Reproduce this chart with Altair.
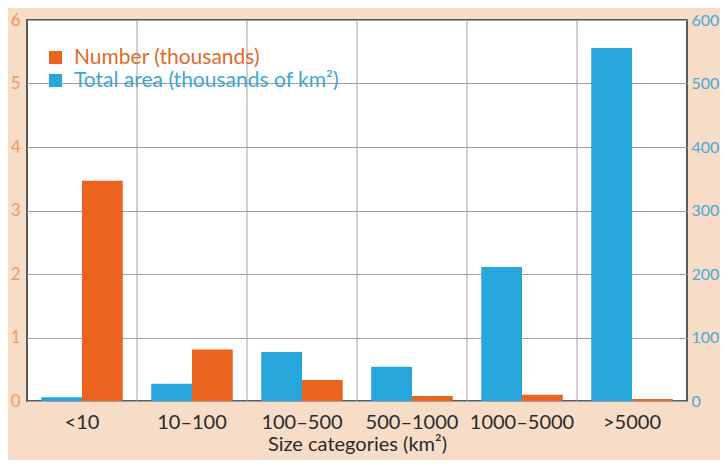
import altair as alt
import pandas as pd

categories = ["<10", "10–100", "100–500", "500–1000", "1000–5000", ">5000"]
number_thousands = [3.47, 0.81, 0.33, 0.08, 0.10, 0.03]
area_thousands_km2 = [6, 27, 77, 54, 211, 556]
number_label = "Number (thousands)"
area_label = "Total area (thousands of km²)"

ORANGE = "#EA6420"
BLUE = "#27A6DC"
FONT = "Lato"

df_num = pd.DataFrame({"cat": categories, "value": number_thousands,
                       "series": "number", "label": number_label})
df_area = pd.DataFrame({"cat": categories, "value": area_thousands_km2,
                        "series": "area", "label": area_label})
df_bounds = pd.DataFrame({"cat": categories[1:]})

x_axis = alt.Axis(labelAngle=0, labelAlign="center", labelBaseline="top", labelFontSize=20,
                  labelColor="#2a2a2a", labelFont=FONT, ticks=False, domain=False, labelPadding=11,
                  title="Size categories (km²)", titleFontSize=20, titleFont=FONT,
                  titleFontWeight="normal", titleColor="#2a2a2a", titlePadding=2, grid=False)
x_scale = alt.Scale(domain=categories, paddingInner=0, paddingOuter=0)
x_enc = alt.X("cat:N", scale=x_scale, axis=x_axis)
xoff = alt.XOffset("series:N", scale=alt.Scale(domain=["area", "number"], paddingOuter=0.35, paddingInner=0))

rules = alt.Chart(df_bounds).mark_rule(color="#a0a0a0", strokeWidth=1).encode(
    x=alt.X("cat:N", bandPosition=0, scale=x_scale, axis=x_axis)
)

legend_common = dict(orient="none", title=None, symbolType="square", symbolSize=170,
                     labelFontSize=21, labelFont=FONT, padding=0, labelLimit=400, labelOffset=8)

orange = alt.Chart(df_num).mark_bar(color=ORANGE).encode(
    x=x_enc,
    xOffset=xoff,
    y=alt.Y("value:Q", scale=alt.Scale(domain=[0, 6]),
            axis=alt.Axis(orient="left", values=[0, 1, 2, 3, 4, 5, 6], grid=True, gridColor="#a0a0a0",
                          gridOpacity=1, ticks=False, domain=False, labelColor="#EE9A5A",
                          labelFontSize=17, labelFont=FONT, labelPadding=7, title=None)),
    color=alt.Color("label:N", scale=alt.Scale(domain=[number_label], range=[ORANGE]),
                    legend=alt.Legend(legendX=18, legendY=27, labelColor="#E26A2C", **legend_common)),
)

blue = alt.Chart(df_area).mark_bar(color=BLUE).encode(
    x=x_enc,
    xOffset=xoff,
    y=alt.Y("value:Q", scale=alt.Scale(domain=[0, 600]),
            axis=alt.Axis(orient="right", values=[0, 100, 200, 300, 400, 500, 600], grid=False,
                          ticks=False, domain=False, labelColor="#4AA8D4",
                          labelFontSize=16, labelFont=FONT, labelPadding=4, title=None)),
    color=alt.Color("label:N", scale=alt.Scale(domain=[area_label], range=[BLUE]),
                    legend=alt.Legend(legendX=18, legendY=50, labelColor="#3FA6D4", **legend_common)),
)

chart = alt.layer(rules, orange, blue).resolve_scale(
    y="independent", color="independent"
).resolve_legend(color="independent").properties(
    width=660, height=381,
    autosize=alt.AutoSizeParams(type="none"),
    padding={"left": 19, "top": 12, "right": 33, "bottom": 59},
    background="#F7DDC8",
).configure_view(fill="white", stroke="#5a5a5a", strokeWidth=2)

chart.save("out.html", embed_options={"renderer": "svg", "actions": False})
